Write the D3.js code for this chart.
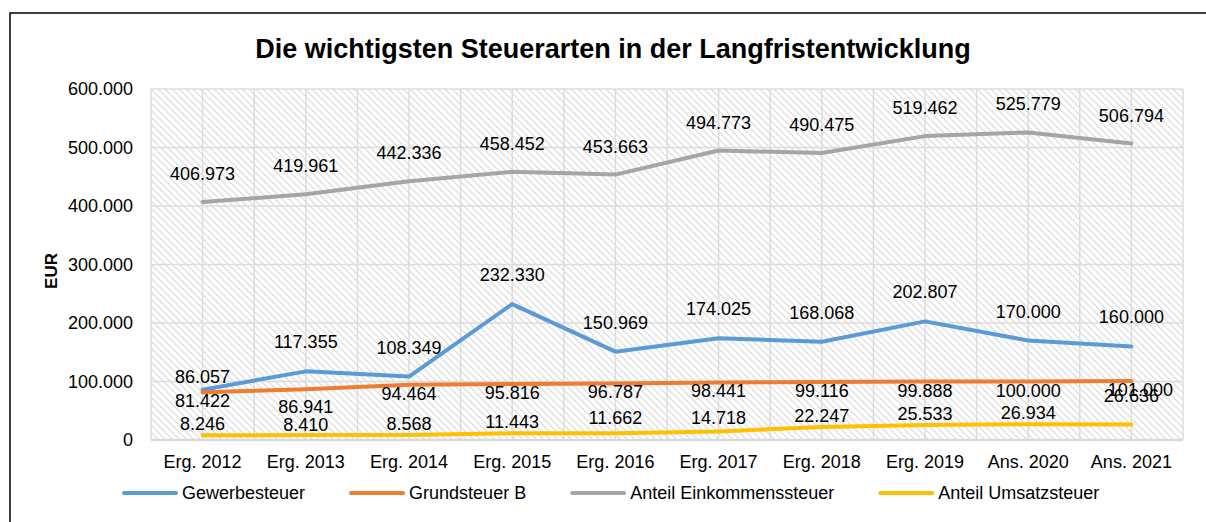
<!DOCTYPE html>
<html lang="de">
<head>
  <meta charset="UTF-8">
  <title>Die wichtigsten Steuerarten in der Langfristentwicklung</title>
  <script src="https://d3js.org/d3.v7.min.js"></script>
  <style>
    body { margin: 0; background: #fff; }
    svg text { font-family: "Liberation Sans", Arial, sans-serif; fill: #000; }
    .chart-title { font-size: 27px; font-weight: bold; text-anchor: middle; }
    .axis text { font-size: 18px; }
    .axis path, .axis line { display: none; }
    .grid line { stroke: #dcdcdc; stroke-width: 1.5; }
    .value-label { font-size: 18px; text-anchor: middle; }
    .legend text { font-size: 18px; }
  </style>
</head>
<body>
<svg width="1206" height="522"></svg>
<script>
  // categories and series
  const years = ["Erg. 2012", "Erg. 2013", "Erg. 2014", "Erg. 2015", "Erg. 2016",
                 "Erg. 2017", "Erg. 2018", "Erg. 2019", "Ans. 2020", "Ans. 2021"];
  const gewerbesteuer = [86057, 117355, 108349, 232330, 150969, 174025, 168068, 202807, 170000, 160000];
  const grundsteuerB = [81422, 86941, 94464, 95816, 96787, 98441, 99116, 99888, 100000, 101000];
  const einkommensteuer = [406973, 419961, 442336, 458452, 453663, 494773, 490475, 519462, 525779, 506794];
  const umsatzsteuer = [8246, 8410, 8568, 11443, 11662, 14718, 22247, 25533, 26934, 26636];
  const yTicks = [0, 100000, 200000, 300000, 400000, 500000, 600000];

  const series = [
    {name: "Gewerbesteuer", values: gewerbesteuer, color: "#5b9bd5", dy: -29},
    {name: "Grundsteuer B", values: grundsteuerB, color: "#ed7d31", dy: 9},
    {name: "Anteil Einkommenssteuer", values: einkommensteuer, color: "#a5a5a5", dy: -28},
    {name: "Anteil Umsatzsteuer", values: umsatzsteuer, color: "#ffc000", dy: -11}
  ];
  // a few labels were moved by hand in the original
  const labelNudge = {
    "Gewerbesteuer|0": [0, -13],
    "Grundsteuer B|1": [0, 18],
    "Grundsteuer B|9": [9, 9],
    "Anteil Umsatzsteuer|1": [0, -10],
    "Anteil Umsatzsteuer|4": [0, -15],
    "Anteil Umsatzsteuer|5": [0, -13],
    "Anteil Umsatzsteuer|9": [0, -28]
  };

  const svg = d3.select("svg");
  const margin = {top: 89, right: 23, bottom: 82, left: 151};
  const width = 1206, height = 522;
  const plotW = width - margin.left - margin.right;
  const plotH = height - margin.top - margin.bottom;

  // outer chart frame (runs past the picture on right and bottom)
  svg.append("path")
     .attr("d", `M10,${height + 2} L10,13 L${width + 2},13`)
     .attr("fill", "none").attr("stroke", "#000").attr("stroke-width", 1.5);

  svg.append("text")
     .attr("class", "chart-title")
     .attr("x", 613).attr("y", 58)
     .text("Die wichtigsten Steuerarten in der Langfristentwicklung");

  const x = d3.scaleBand().domain(years).range([0, plotW]).padding(0);
  const y = d3.scaleLinear().domain([0, 600000]).range([plotH, 0]);

  const defs = svg.append("defs");
  const pat = defs.append("pattern")
     .attr("id", "hatch").attr("patternUnits", "userSpaceOnUse")
     .attr("width", 7).attr("height", 7);
  pat.append("path").attr("d", "M-1,-1 L8,8 M-1,6 L1,8 M6,-1 L8,1")
     .attr("stroke", "#dedede").attr("stroke-width", 1.3);

  const g = svg.append("g").attr("transform", `translate(${margin.left},${margin.top})`);

  g.append("rect").attr("width", plotW).attr("height", plotH).attr("fill", "url(#hatch)");

  // grid: horizontal at each tick, vertical at band edges and centres
  const grid = g.append("g").attr("class", "grid");
  grid.selectAll(".h").data(yTicks).join("line")
      .attr("x1", 0).attr("x2", plotW)
      .attr("y1", d => y(d)).attr("y2", d => y(d));
  const vx = [];
  years.forEach(c => { vx.push(x(c)); vx.push(x(c) + x.bandwidth() / 2); });
  vx.push(plotW);
  grid.selectAll(".v").data(vx).join("line")
      .attr("x1", d => d).attr("x2", d => d)
      .attr("y1", 0).attr("y2", plotH);
  g.append("line").attr("x1", 0).attr("x2", plotW).attr("y1", plotH).attr("y2", plotH)
   .attr("stroke", "#d9d9d9").attr("stroke-width", 2.5);

  const fmt = v => v === 0 ? "0" : d3.format(",")(v).replace(/,/g, ".");

  g.append("g").attr("class", "axis")
   .call(d3.axisLeft(y).tickValues(yTicks).tickFormat(fmt).tickSize(0).tickPadding(18));
  g.append("g").attr("class", "axis")
   .attr("transform", `translate(0,${plotH})`)
   .call(d3.axisBottom(x).tickSize(0).tickPadding(15));

  svg.append("text")
     .attr("transform", "translate(57,271) rotate(-90)")
     .attr("text-anchor", "middle")
     .style("font-size", "17px").style("font-weight", "bold")
     .text("EUR");

  const line = d3.line()
     .x((d, i) => x(years[i]) + x.bandwidth() / 2)
     .y(d => y(d));

  series.forEach(s => {
    g.append("path")
     .datum(s.values)
     .attr("fill", "none")
     .attr("stroke", s.color)
     .attr("stroke-width", 4)
     .attr("stroke-linejoin", "round")
     .attr("stroke-linecap", "round")
     .attr("d", line);
  });

  series.forEach(s => {
    g.selectAll(null).data(s.values).join("text")
     .attr("class", "value-label")
     .attr("dominant-baseline", "central")
     .attr("x", (d, i) => x(years[i]) + x.bandwidth() / 2 + (labelNudge[s.name + "|" + i] || [0])[0])
     .attr("y", (d, i) => {
        const n = labelNudge[s.name + "|" + i];
        return y(d) + (n ? n[1] : s.dy);
     })
     .text(fmt);
  });

  // legend
  const legend = svg.append("g").attr("class", "legend").attr("transform", "translate(124,493)");
  let lx = 0;
  series.forEach(s => {
    const item = legend.append("g").attr("transform", `translate(${lx},0)`);
    item.append("line").attr("x1", 0).attr("x2", 52)
        .attr("stroke", s.color).attr("stroke-width", 4).attr("stroke-linecap", "round");
    const t = item.append("text").attr("x", 58).attr("dy", "0.35em").text(s.name);
    lx += 58 + t.node().getComputedTextLength() + 46;
  });
</script>
</body>
</html>
